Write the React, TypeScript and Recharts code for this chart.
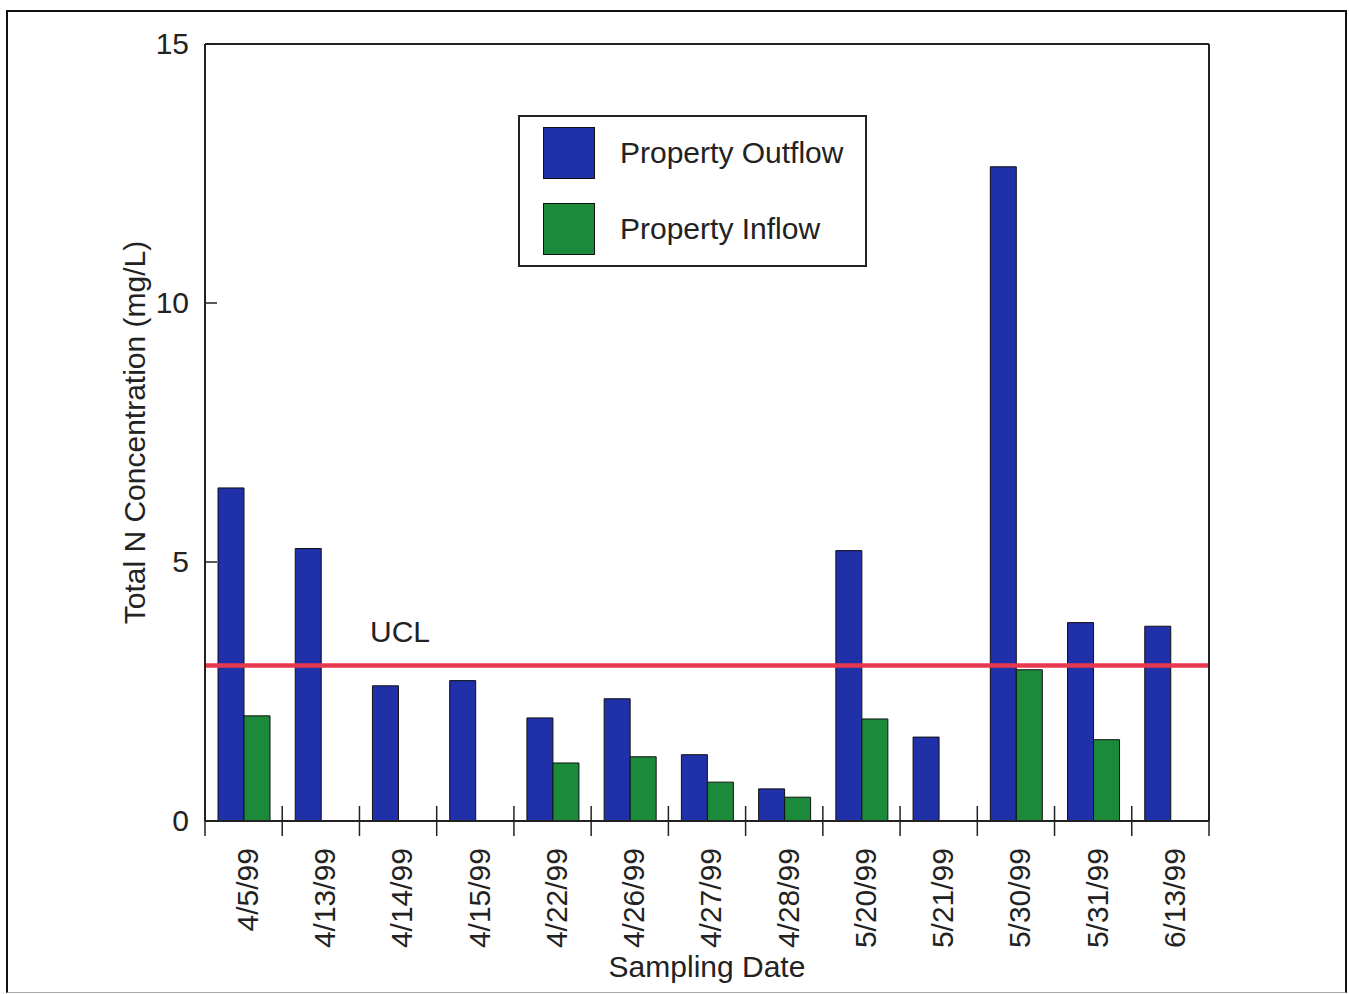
import React from 'react';
import { BarChart, Bar, XAxis, YAxis, ReferenceLine, Legend, Label } from 'recharts';

const dates = ['4/5/99', '4/13/99', '4/14/99', '4/15/99', '4/22/99', '4/26/99', '4/27/99', '4/28/99', '5/20/99', '5/21/99', '5/30/99', '5/31/99', '6/13/99'];
const outflow = [6.43, 5.26, 2.61, 2.71, 1.99, 2.36, 1.28, 0.62, 5.22, 1.62, 12.63, 3.83, 3.76];
const inflow = [2.03, null, null, null, 1.12, 1.24, 0.75, 0.46, 1.97, null, 2.92, 1.57, null];
const yTicks = [0, 5, 10, 15];
const ucl = 3.0;

const data = dates.map((date, i) => ({ date, outflow: outflow[i], inflow: inflow[i] }));

const FONT = '"Liberation Sans", Arial, Helvetica, sans-serif';
const INK = '#222';
const BLUE = '#1f30a8';
const GREEN = '#1b8a3b';
const RED = '#e8384f';
const FS = 30;

const series = [
  { key: 'outflow', name: 'Property Outflow', color: BLUE },
  { key: 'inflow', name: 'Property Inflow', color: GREEN },
];

// rotated date label + the little crossing ticks at the category edges
function DateTick({ x, y, payload, index }: any) {
  const half = payload.offset || 0;
  const ty = y + 27;
  const edge = (ex: number) => <line x1={ex} x2={ex} y1={y - 15} y2={y + 15} stroke={INK} strokeWidth={1.5} />;
  return (
    <g>
      {edge(x - half)}
      {index === dates.length - 1 ? edge(x + half) : null}
      <text x={x} y={ty} dy="0.48em" transform={`rotate(-90, ${x}, ${ty})`} textAnchor="end" fontSize={FS} fill={INK} fontFamily={FONT}>
        {payload.value}
      </text>
    </g>
  );
}

function YTick({ x, y, payload }: any) {
  return (
    <g>
      <line x1={x} x2={x + 12} y1={y} y2={y} stroke={INK} strokeWidth={1.5} />
      <text x={x - 16} y={y} dy="0.33em" textAnchor="end" fontSize={FS} fill={INK} fontFamily={FONT}>
        {payload.value}
      </text>
    </g>
  );
}

function renderLegend() {
  return (
    <div style={{ boxSizing: 'border-box', width: 349, height: 152, border: `2px solid ${INK}`, background: '#fff', paddingTop: 10 }}>
      {series.map((it, i) => (
        <div key={it.key} style={{ display: 'flex', alignItems: 'center', height: 52, marginTop: i ? 24 : 0 }}>
          <div style={{ boxSizing: 'border-box', width: 52, height: 52, marginLeft: 23, background: it.color, border: '1.5px solid #111' }} />
          <span style={{ marginLeft: 25, fontSize: FS, color: INK, fontFamily: FONT }}>{it.name}</span>
        </div>
      ))}
    </div>
  );
}

export default function App() {
  return (
    <div style={{ position: 'absolute', left: 0, top: 0, width: 1349, height: 994, background: '#fff' }}>
      <div style={{ position: 'absolute', left: 6, top: 10, width: 1341, height: 983, boxSizing: 'border-box', border: '2.5px solid #111', borderBottom: '1px solid #aaa' }} />
      <BarChart width={1349} height={994} data={data} margin={{ top: 43, right: 139, bottom: 172, left: 0 }} barGap={0} barCategoryGap={0}>
        <XAxis xAxisId="cat" dataKey="date" interval={0} height={1} tickSize={0} tickMargin={0} tickLine={false}
          axisLine={{ stroke: INK, strokeWidth: 2 }} tick={<DateTick />}>
          <Label content={(p: any) => {
            const vb = p.viewBox || { x: 0, y: 0, width: 0 };
            return (
              <text x={vb.x + vb.width / 2} y={vb.y + 156} textAnchor="middle" fontSize={FS} fill={INK} fontFamily={FONT}>Sampling Date</text>
            );
          }} />
        </XAxis>
        <XAxis xAxisId="top" orientation="top" type="number" domain={[0, 1]} ticks={[0, 1]} height={1} tick={false} tickLine={false}
          axisLine={{ stroke: INK, strokeWidth: 2 }} />
        <YAxis yAxisId="n" domain={[0, 15]} ticks={yTicks} interval={0} allowDataOverflow width={205} tickSize={0} tickMargin={0}
          tickLine={false} axisLine={{ stroke: INK, strokeWidth: 2 }} tick={<YTick />}>
          <Label content={(p: any) => {
            const vb = p.viewBox || { x: 0, y: 0, height: 0 };
            const cx = vb.x + 145;
            const cy = vb.y + vb.height / 2;
            return (
              <text x={cx} y={cy} transform={`rotate(-90, ${cx}, ${cy})`} textAnchor="middle" fontSize={FS} fill={INK} fontFamily={FONT}>
                Total N Concentration (mg/L)
              </text>
            );
          }} />
        </YAxis>
        <YAxis yAxisId="frame" orientation="right" domain={[0, 1]} ticks={[0, 1]} width={1} tick={false} tickLine={false}
          axisLine={{ stroke: INK, strokeWidth: 2 }} />
        <Legend layout="vertical" align="center" verticalAlign="middle" wrapperStyle={{ left: 518, top: 115, width: 349, height: 152 }}
          content={renderLegend} />
        {series.map((s) => (
          <Bar key={s.key} xAxisId="cat" yAxisId="n" dataKey={s.key} name={s.name} fill={s.color} stroke="#111" strokeWidth={1}
            barSize={26} isAnimationActive={false} />
        ))}
        <ReferenceLine xAxisId="cat" yAxisId="n" y={ucl} stroke={RED} strokeWidth={4.5}
          label={(p: any) => {
            const vb = p.viewBox || { x: 0, y: 0 };
            return (
              <text x={vb.x + 165} y={vb.y - 24} fontSize={FS} fill={INK} fontFamily={FONT}>UCL</text>
            );
          }} />
      </BarChart>
    </div>
  );
}
